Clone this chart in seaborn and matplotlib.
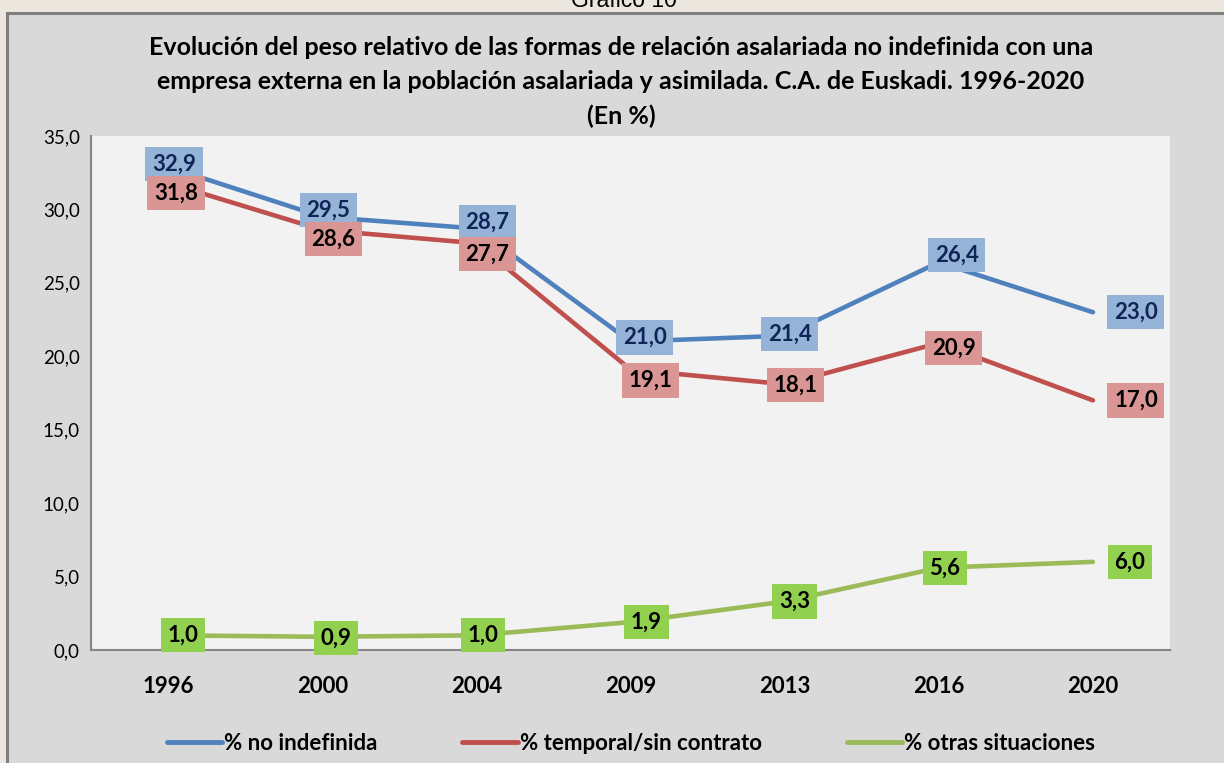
import pandas as pd
import matplotlib.pyplot as plt
import seaborn as sns
from matplotlib.patches import Rectangle
from matplotlib.lines import Line2D

years = ["1996", "2000", "2004", "2009", "2013", "2016", "2020"]
no_indefinida = [32.9, 29.5, 28.7, 21.0, 21.4, 26.4, 23.0]
temporal = [31.8, 28.6, 27.7, 19.1, 18.1, 20.9, 17.0]
otras = [1.0, 0.9, 1.0, 1.9, 3.3, 5.6, 6.0]
series_names = ["% no indefinida", "% temporal/sin contrato", "% otras situaciones"]

# estilo de cada serie: color de línea, caja de etiqueta, texto de etiqueta
line_colors = ["#4F81BD", "#C0504D", "#9BBB59"]
box_colors = ["#95B3D7", "#DA9694", "#92D050"]
text_colors = ["#0F2557", "#000000", "#000000"]
# desplazamiento de etiquetas (px) respecto al punto
label_offsets = [
    [(6, 3), (6, 7), (11, 6), (14, 4), (5, 2), (18, 7), (43, 0)],
    [(8, -10), (11, -9), (11, -11), (20, -11), (11, -1), (15, -5), (43, 0)],
    [(15, 0), (14, -1), (7, 0), (16, 0), (10, 0), (6, 0), (37, 0)],
]

W, H = 1224, 763


def main():
    df = pd.DataFrame({
        "year": years * 3,
        "serie": [series_names[0]] * 7 + [series_names[1]] * 7 + [series_names[2]] * 7,
        "valor": no_indefinida + temporal + otras,
    })

    sns.set_style("white")
    plt.rcParams["font.family"] = ["Lato", "DejaVu Sans"]
    plt.rcParams["text.color"] = "black"
    plt.rcParams["xtick.labelcolor"] = "black"
    plt.rcParams["ytick.labelcolor"] = "black"

    fig = plt.figure(figsize=(W / 100, H / 100), dpi=100)
    fig.patch.set_facecolor("#EBE7DF")
    fig.patches.append(Rectangle((7 / W, -0.02), 1.1, (H - 13) / H + 0.02,
                                 transform=fig.transFigure, facecolor="#D9D9D9",
                                 edgecolor="#7F7F7F", linewidth=2.2, zorder=-5))

    ax = fig.add_axes([91 / W, (H - 650) / H, (1170 - 91) / W, (650 - 136) / H])
    ax.set_facecolor("#F2F2F2")

    sns.lineplot(data=df, x="year", y="valor", hue="serie", palette=line_colors,
                 linewidth=3.3, solid_capstyle="round", legend=False, ax=ax,
                 sort=False)

    ax.set_xlim(-0.5, 6.5)
    ax.set_ylim(0, 35)
    ax.set_yticks([0, 5, 10, 15, 20, 25, 30, 35])
    ax.set_yticklabels([f"{v:.1f}".replace(".", ",") for v in range(0, 40, 5)],
                       fontsize=13.5)
    ax.set_xticks(range(7))
    ax.set_xticklabels(years, fontsize=16, fontweight="bold")
    ax.set_xticks([i - 0.5 for i in range(8)], minor=True)
    ax.tick_params(axis="x", which="major", length=0, pad=19)
    ax.tick_params(axis="x", which="minor", length=5, width=1.3, color="#868686",
                   direction="out")
    ax.tick_params(axis="y", length=5, width=1.3, color="#868686", direction="out", pad=3)
    ax.set_xlabel("")
    ax.set_ylabel("")
    for s in ["top", "right"]:
        ax.spines[s].set_visible(False)
    for s in ["left", "bottom"]:
        ax.spines[s].set_color("#868686")
        ax.spines[s].set_linewidth(1.5)

    # etiquetas de datos
    for k, vals in enumerate([no_indefinida, temporal, otras]):
        for i, v in enumerate(vals):
            dx, dy = label_offsets[k][i]
            ax.annotate(f"{v:.1f}".replace(".", ","), xy=(i, v), xytext=(dx, dy),
                        textcoords="offset pixels", ha="center", va="center",
                        fontsize=16, fontweight="bold", color=text_colors[k],
                        bbox=dict(boxstyle="square,pad=0.3", facecolor=box_colors[k],
                                  edgecolor="none"),
                        zorder=5 + k, annotation_clip=False)

    fig.text(624 / W, 1 - 7 / H, "Gráfico 10", ha="center", va="baseline",
             fontsize=16.5, family="Liberation Sans")
    fig.text(621 / W, 1 - 82 / H,
             "Evolución del peso relativo de las formas de relación asalariada no indefinida con una\n"
             "empresa externa en la población asalariada y asimilada. C.A. de Euskadi. 1996-2020\n"
             "(En %)",
             ha="center", va="center", multialignment="center", fontsize=18,
             fontweight="bold", linespacing=1.6)

    handles = [Line2D([0], [0], color=c, linewidth=3.5, solid_capstyle="round")
               for c in line_colors]
    fig.legend(handles, series_names, loc="center", bbox_to_anchor=(631 / W, 1 - 743 / H),
               ncol=3, frameon=False, handlelength=2.5, handletextpad=0.1,
               columnspacing=3.8, prop={"weight": "bold", "size": 16})

    fig.savefig("out.png", dpi=100, facecolor=fig.get_facecolor())
    plt.close()


if __name__ == "__main__":
    main()
